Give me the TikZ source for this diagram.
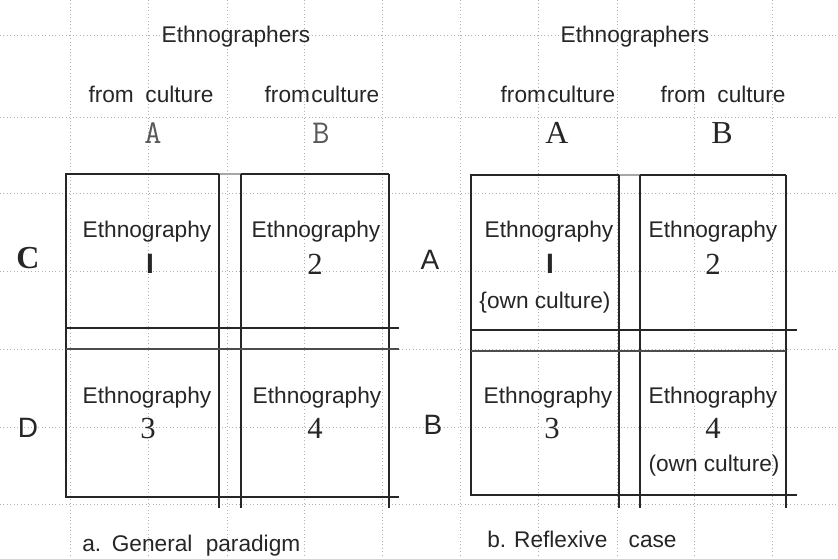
\documentclass[tikz,border=0pt]{standalone}
\usepackage{fontspec}
\setmainfont{Liberation Sans}
\newfontfamily\seriffont{Liberation Serif}
\begin{document}
\begin{tikzpicture}[x=0.75pt,y=-0.75pt,
  gridline/.style={draw=black!30,line width=0.6pt,dotted},
  frame/.style={draw=black!85,line width=1.2pt},
  paleline/.style={draw=black!35,line width=1pt},
  txt/.style={inner sep=0pt,anchor=base,text=black!85,font=\fontsize{17}{19}\selectfont},
  numtxt/.style={inner sep=0pt,anchor=base,text=black!85,font=\seriffont\fontsize{23}{24}\selectfont},
  headA/.style={inner sep=0pt,anchor=base,text=black!65,font=\ttfamily\fontsize{25}{26}\selectfont},
  headB/.style={inner sep=0pt,anchor=base,text=black!85,font=\seriffont\fontsize{24}{26}\selectfont},
  rowlbl/.style={inner sep=0pt,anchor=base,text=black!85,font=\fontsize{21}{22}\selectfont},
  onetxt/.style={inner sep=0pt,anchor=base,text=black!85,font=\bfseries\fontsize{21}{22}\selectfont}]
\useasboundingbox (0,0) rectangle (838,558);
\fill[white] (0,0) rectangle (838,558);

% background dotted grid
\foreach \gx in {70,148,227,304,382,460,538,617,694,772}
  \draw[gridline] (\gx,0) -- (\gx,558);
\foreach \gy in {35,117,193,271,349,427,504}
  \draw[gridline] (0,\gy) -- (838,\gy);

% ---- panel a: general paradigm ----
\draw[paleline] (219,174) -- (241,174);
\draw[frame] (219,174) -- (66,174) -- (66,497) -- (399,497);
\draw[frame] (241,174) -- (389,174);
\draw[frame] (219,174) -- (219,508);
\draw[frame] (241,174) -- (241,508);
\draw[frame] (389,174) -- (389,508);
\draw[frame] (66,328) -- (399,328);
\draw[frame,draw=black!70] (66,349) -- (399,349);

\node[txt] (ethA) at (236,42) {Ethnographers};
\node[txt] (fromA1) at (151,102) {from\hspace{4pt} culture};
\node[txt] (fromA2) at (322,102) {from\hspace{1pt}culture};
\node[headA] (colA1) at (153,143) {A};
\node[headA] (colA2) at (321,143) {B};
\node[font=\seriffont\bfseries\fontsize{24}{24}\selectfont,inner sep=0pt,anchor=base,text=black!85] (rowC) at (28,268) {C};
\node[rowlbl] (rowD) at (28,437) {D};

\node[txt] (eA1) at (147,237) {Ethnography};
\node[onetxt] (nA1) at (150,273) {I};
\node[txt] (eA2) at (316,237) {Ethnography};
\node[numtxt] (nA2) at (315,274) {2};
\node[txt] (eA3) at (147,403) {Ethnography};
\node[numtxt] (nA3) at (148,438) {3};
\node[txt] (eA4) at (317,403) {Ethnography};
\node[numtxt] (nA4) at (315,438) {4};
\node[txt,anchor=base west] (capA) at (82,551) {a.\hspace{8pt}General\hspace{10pt}paradigm};

% ---- panel b: reflexive case ----
\draw[paleline] (619,175) -- (640,175);
\draw[frame] (619,175) -- (471,175) -- (471,495) -- (797,495);
\draw[frame] (640,175) -- (786,175);
\draw[frame] (619,175) -- (619,508);
\draw[frame] (640,175) -- (640,508);
\draw[frame] (786,175) -- (786,508);
\draw[frame] (471,330) -- (797,330);
\draw[frame,draw=black!70] (471,351) -- (786,351);

\node[txt] (ethB) at (635,42) {Ethnographers};
\node[txt] (fromB1) at (558,102) {from\hspace{1pt}culture};
\node[txt] (fromB2) at (723,102) {from\hspace{4pt} culture};
\node[headB] (colB1) at (557,143) {A};
\node[headB] (colB2) at (722,143) {B};
\node[rowlbl] (rowA) at (430,269) {A};
\node[rowlbl] (rowB) at (433,434) {B};

\node[txt] (eB1) at (549,237) {Ethnography};
\node[onetxt] (nB1) at (550,273) {I};
\node[txt] (oB1) at (545,308) {\{own culture)};
\node[txt] (eB2) at (713,237) {Ethnography};
\node[numtxt] (nB2) at (713,274) {2};
\node[txt] (eB3) at (548,403) {Ethnography};
\node[numtxt] (nB3) at (552,438) {3};
\node[txt] (eB4) at (713,403) {Ethnography};
\node[numtxt] (nB4) at (713,438) {4};
\node[txt] (oB4) at (714,471) {(own culture)};
\node[txt,anchor=base west] (capB) at (487,547) {b.\hspace{6pt}Reflexive\hspace{16pt}case};
\end{tikzpicture}
\end{document}
